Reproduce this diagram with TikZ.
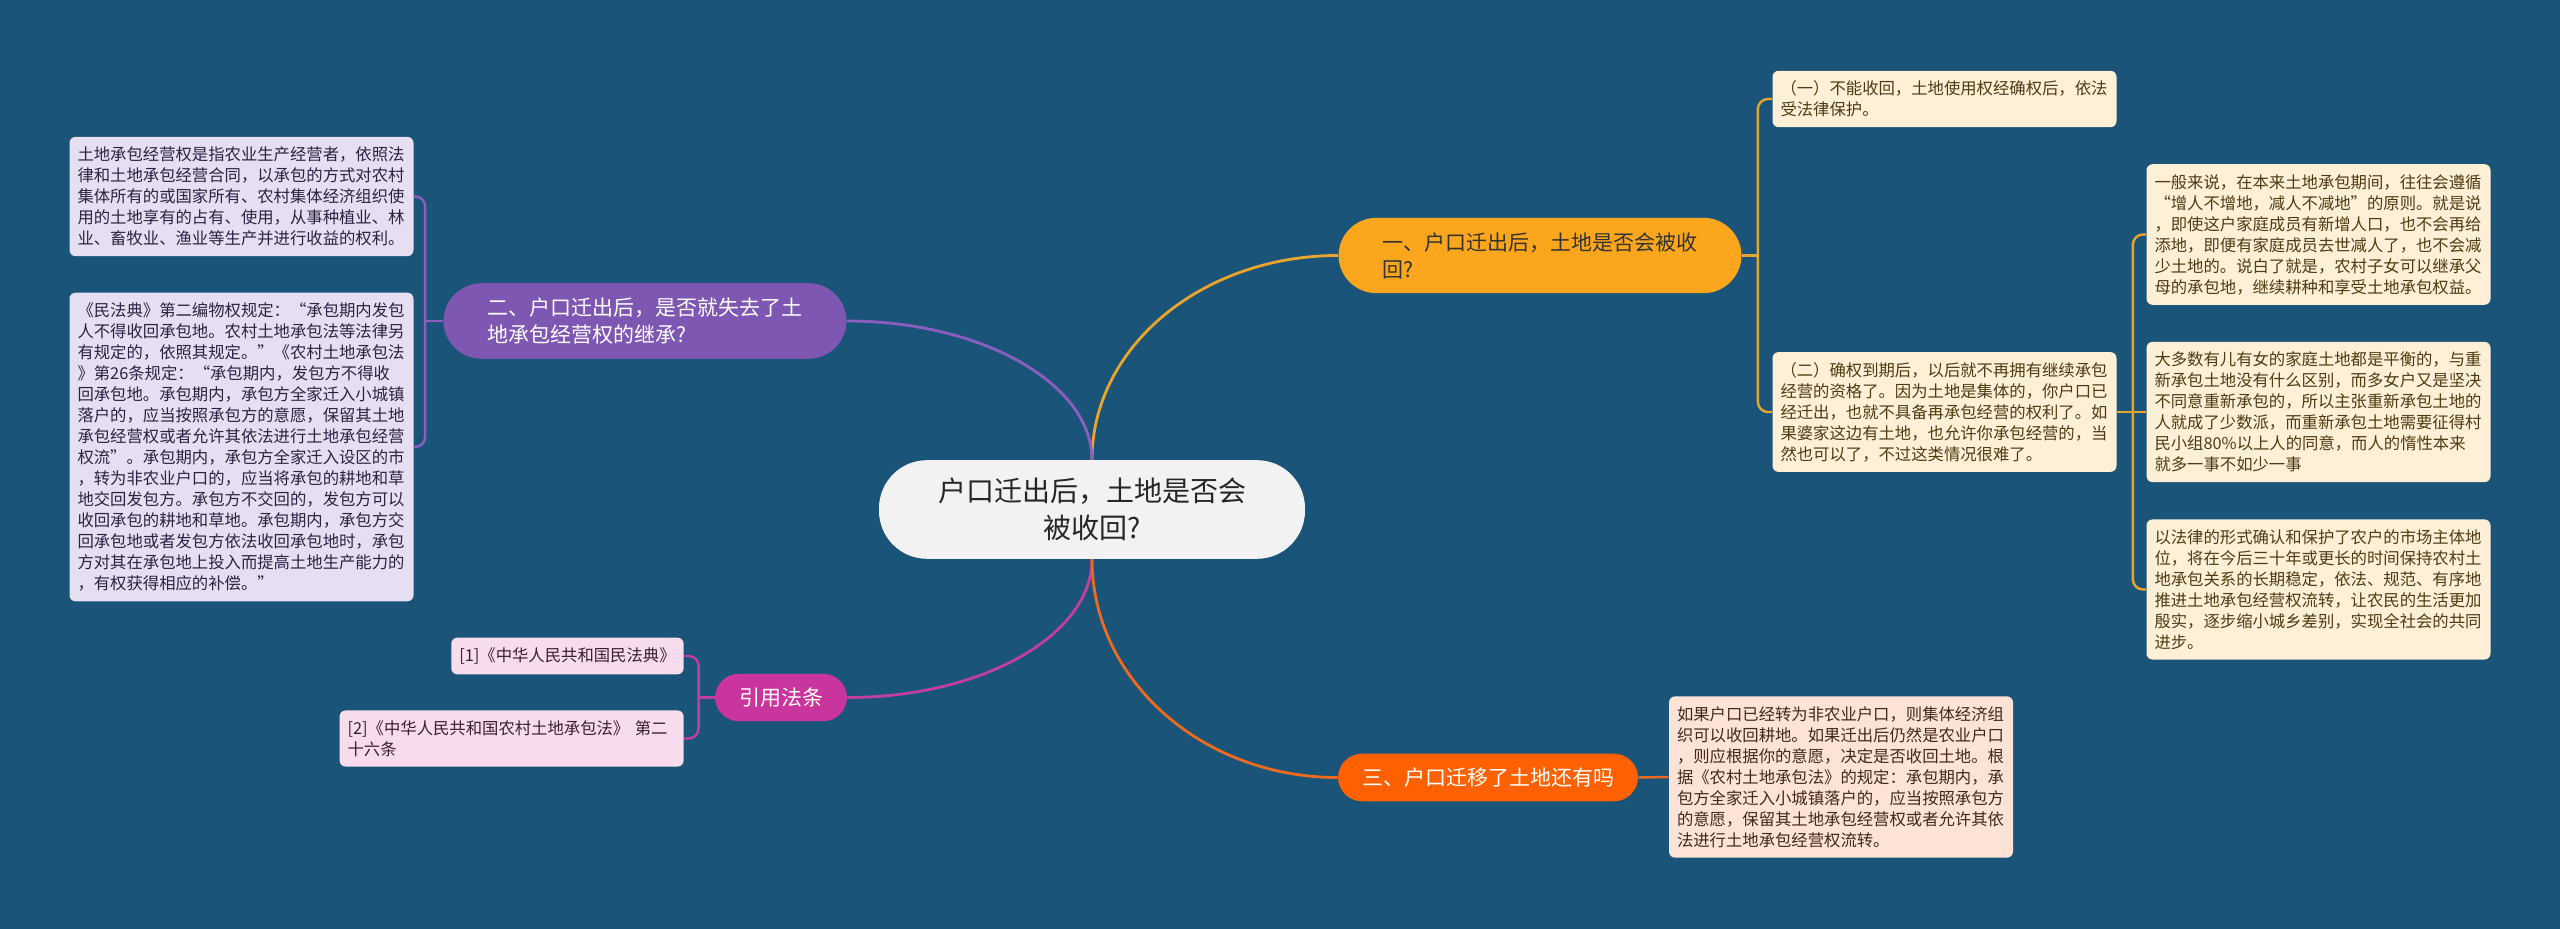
\documentclass[tikz,border=0pt]{standalone}
\usepackage{fontspec}
\newfontfamily\cjk{Noto Sans CJK SC}
\usetikzlibrary{calc}
\definecolor{bgblue}{HTML}{1B5479}
\definecolor{rootgrey}{HTML}{F2F2F2}
\definecolor{goldbr}{HTML}{FBA61C}\definecolor{goldln}{HTML}{EAA62C}\definecolor{cream}{HTML}{FDF0D6}\definecolor{creamtxt}{HTML}{4D3B12}
\definecolor{purplebr}{HTML}{7E57B2}\definecolor{purpleln}{HTML}{8A5FC0}\definecolor{lavender}{HTML}{E5DFF1}\definecolor{lavtxt}{HTML}{2B2340}
\definecolor{pinkbr}{HTML}{C9359C}\definecolor{pinkln}{HTML}{C23F9C}\definecolor{blush}{HTML}{F6DCEC}\definecolor{blushtxt}{HTML}{3A1F33}
\definecolor{flamebr}{HTML}{FF6000}\definecolor{flameln}{HTML}{EE6A1E}\definecolor{peach}{HTML}{FDE3D6}\definecolor{peachtxt}{HTML}{40281C}
\tikzset{mainbox/.style={fill=rootgrey,text=black!85,rounded corners=24pt,align=center,inner xsep=29.5pt,inner ysep=9pt,font=\cjk\fontsize{14}{18.35}\selectfont},
topic/.style={rounded corners=19pt,text width=158pt,align=left,inner xsep=21.75pt,inner ysep=7.25pt,font=\cjk\fontsize{10.5}{13.5}\selectfont},
tag/.style={rounded corners=12pt,inner xsep=12pt,inner ysep=7pt,text=white,font=\cjk\fontsize{10.5}{13.5}\selectfont},
leaf/.style={rounded corners=3pt,align=left,inner xsep=4pt,inner ysep=5pt,font=\cjk\fontsize{8.175}{10.5}\selectfont},
leafwide/.style={leaf,text width=164pt},
bough/.style={line width=1.4pt},twig/.style={line width=1.2pt,rounded corners=5pt}}
\begin{document}
\begin{tikzpicture}[x=0.5pt,y=-0.5pt]
\fill[bgblue] (0,0) rectangle (2560,929);
\node[mainbox] (root) at (1092,509.5) {户口迁出后，土地是否会\\被收回?};
\node[topic,fill=goldbr,text=black!80] (b1) at (1540,255.5) {一、户口迁出后，土地是否会被收\\回?};
\node[topic,fill=purplebr,text=white] (b2) at (645,321) {二、户口迁出后，是否就失去了土\\地承包经营权的继承?};
\node[tag,fill=pinkbr] (b3) at (781,697.5) {引用法条};
\node[tag,fill=flamebr] (b4) at (1488,777.5) {三、户口迁移了土地还有吗};
\draw[bough,goldln] (root.north) .. controls +(0,-113) and +(-136,0) .. (b1.west);
\draw[bough,purpleln] (root.north) .. controls +(0,-76) and +(135,0) .. (b2.east);
\draw[bough,pinkln] (root.south) .. controls +(0,76) and +(135,0) .. (b3.east);
\draw[bough,flameln] (root.south) .. controls +(0,120) and +(-136,0) .. (b4.west);
\node[leafwide,fill=cream,text=creamtxt] (a1) at (1944.5,99) {（一）不能收回，土地使用权经确权后，依法\\受法律保护。};
\node[leafwide,fill=cream,text=creamtxt] (a2) at (1944.5,412) {（二）确权到期后，以后就不再拥有继续承包\\经营的资格了。因为土地是集体的，你户口已\\经迁出，也就不具备再承包经营的权利了。如\\果婆家这边有土地，也允许你承包经营的，当\\然也可以了，不过这类情况很难了。};
\node[leafwide,fill=cream,text=creamtxt] (a3) at (2318.5,234.5) {一般来说，在本来土地承包期间，往往会遵循\\“增人不增地，减人不减地”的原则。就是说\\，即使这户家庭成员有新增人口，也不会再给\\添地，即便有家庭成员去世减人了，也不会减\\少土地的。说白了就是，农村子女可以继承父\\母的承包地，继续耕种和享受土地承包权益。};
\node[leafwide,fill=cream,text=creamtxt] (a4) at (2318.5,412) {大多数有儿有女的家庭土地都是平衡的，与重\\新承包土地没有什么区别，而多女户又是坚决\\不同意重新承包的，所以主张重新承包土地的\\人就成了少数派，而重新承包土地需要征得村\\民小组80\%以上人的同意，而人的惰性本来\\就多一事不如少一事};
\node[leafwide,fill=cream,text=creamtxt] (a5) at (2318.5,589.5) {以法律的形式确认和保护了农户的市场主体地\\位，将在今后三十年或更长的时间保持农村土\\地承包关系的长期稳定，依法、规范、有序地\\推进土地承包经营权流转，让农民的生活更加\\殷实，逐步缩小城乡差别，实现全社会的共同\\进步。};
\node[leafwide,fill=lavender,text=lavtxt] (p1) at (241.5,196.5) {土地承包经营权是指农业生产经营者，依照法\\律和土地承包经营合同，以承包的方式对农村\\集体所有的或国家所有、农村集体经济组织使\\用的土地享有的占有、使用，从事种植业、林\\业、畜牧业、渔业等生产并进行收益的权利。};
\node[leafwide,fill=lavender,text=lavtxt] (p2) at (241.5,447) {《民法典》第二编物权规定：“承包期内发包\\人不得收回承包地。农村土地承包法等法律另\\有规定的，依照其规定。”《农村土地承包法\\》第26条规定：“承包期内，发包方不得收\\回承包地。承包期内，承包方全家迁入小城镇\\落户的，应当按照承包方的意愿，保留其土地\\承包经营权或者允许其依法进行土地承包经营\\权流”。承包期内，承包方全家迁入设区的市\\，转为非农业户口的，应当将承包的耕地和草\\地交回发包方。承包方不交回的，发包方可以\\收回承包的耕地和草地。承包期内，承包方交\\回承包地或者发包方依法收回承包地时，承包\\方对其在承包地上投入而提高土地生产能力的\\，有权获得相应的补偿。”};
\node[leaf,fill=blush,text=blushtxt,anchor=east] (m1) at (684,656) {[1]《中华人民共和国民法典》};
\node[leafwide,fill=blush,text=blushtxt,anchor=east] (m2) at (684,738.5) {[2]《中华人民共和国农村土地承包法》 第二\\十六条};
\node[leafwide,fill=peach,text=peachtxt] (r1) at (1841,777) {如果户口已经转为非农业户口，则集体经济组\\织可以收回耕地。如果迁出后仍然是农业户口\\，则应根据你的意愿，决定是否收回土地。根\\据《农村土地承包法》的规定：承包期内，承\\包方全家迁入小城镇落户的，应当按照承包方\\的意愿，保留其土地承包经营权或者允许其依\\法进行土地承包经营权流转。};
\coordinate (j1) at ($(b1.east)+(16,0)$);\coordinate (j2) at ($(a2.east)+(16,0)$);
\coordinate (j3) at ($(b2.west)+(-18,0)$);\coordinate (j4) at ($(b3.west)+(-16,0)$);
\draw[twig,goldln] (b1.east) -- (j1);\draw[twig,goldln] (a1.west) -| (j1) |- (a2.west);
\draw[twig,goldln] (a2.east) -- (j2);\draw[twig,goldln] (a3.west) -| (j2) |- (a5.west);\draw[twig,goldln] (j2) -- (a4.west);
\draw[twig,purpleln] (b2.west) -- (j3);\draw[twig,purpleln] (p1.east) -| (j3) |- (p2.east);
\draw[twig,pinkln] (b3.west) -- (j4);\draw[twig,pinkln] (m1.east) -| (j4) |- (m2.east);
\draw[twig,flameln] (b4.east) -- (r1.west);
\end{tikzpicture}
\end{document}
